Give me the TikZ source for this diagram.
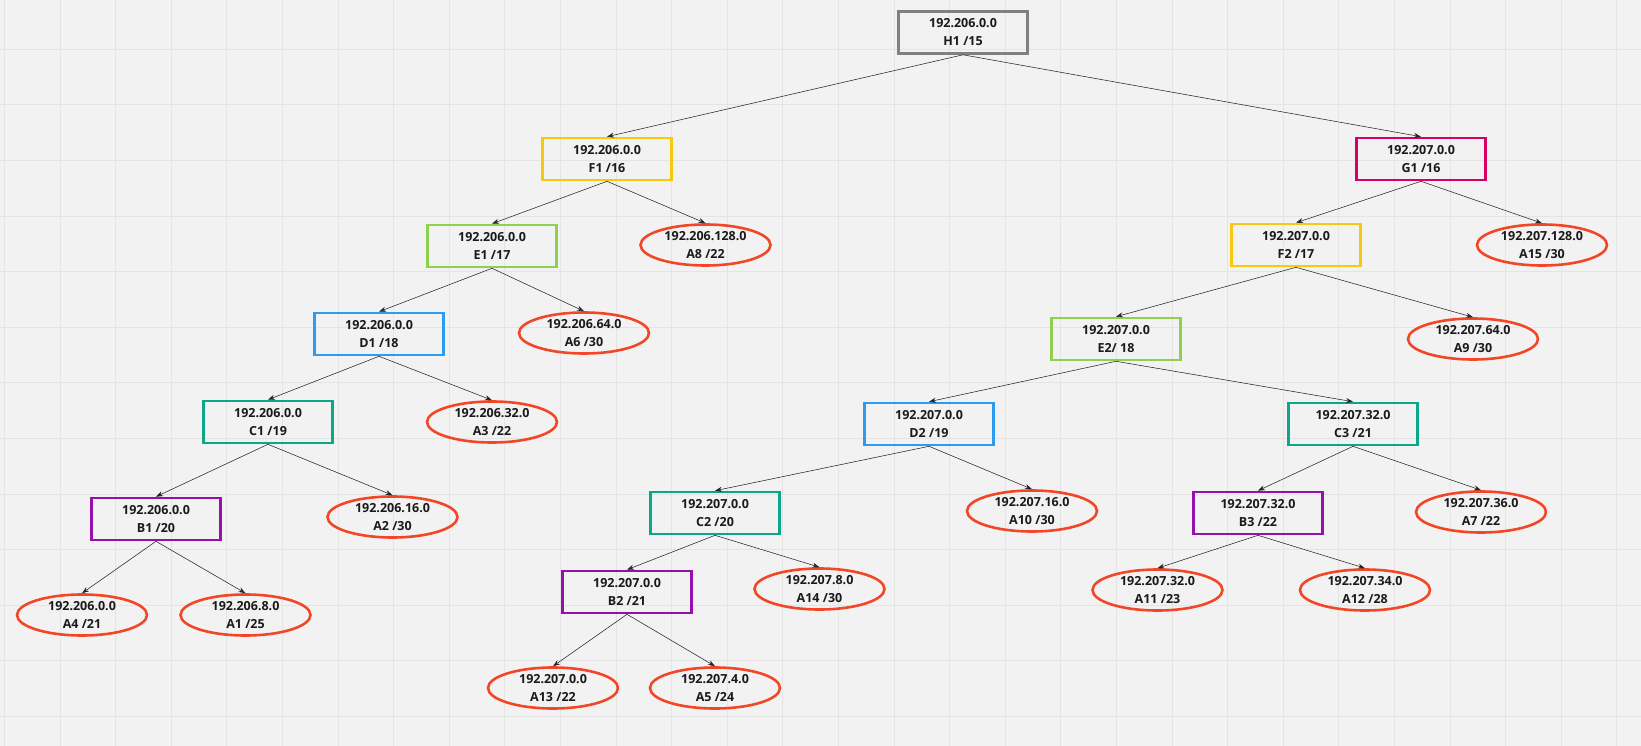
\documentclass[tikz,border=0pt]{standalone}
\usepackage{fontspec}
\setmainfont{Open Sans}
\usetikzlibrary{arrows.meta}
\definecolor{bg}{HTML}{F2F2F2}
\definecolor{gridc}{HTML}{E4E4E4}
\definecolor{cgray}{HTML}{808080}
\definecolor{cyellow}{HTML}{FAC710}
\definecolor{cpink}{HTML}{DA0063}
\definecolor{cgreen}{HTML}{8FD14F}
\definecolor{cblue}{HTML}{2D9BF0}
\definecolor{cteal}{HTML}{0CA789}
\definecolor{cpurple}{HTML}{9510AC}
\definecolor{cred}{HTML}{F24726}
\definecolor{txt}{HTML}{1A1A1A}
\tikzset{
  base/.style={line width=2.6pt, minimum width=129pt, minimum height=42pt, inner sep=0pt,
    align=center, font=\fontsize{12.5}{18}\selectfont\bfseries, text=txt},
  rbox/.style={base, draw=#1, rectangle},
  leaf/.style={base, draw=cred, ellipse, minimum width=130pt, minimum height=41pt},
  conn/.style={-{Stealth[length=7pt,width=5pt]}, line width=0.55pt, draw=black!85},
}
\usetikzlibrary{shapes.geometric}
\begin{document}
\begin{tikzpicture}[x=1pt,y=-1pt]
\fill[bg] (0,0) rectangle (1641,746);
\useasboundingbox (0,0) rectangle (1641,746);
\foreach \i in {0,...,29} {\draw[gridc, line width=0.9pt] ({4.5+55.6*\i},0) -- ({4.5+55.6*\i},746);}
\foreach \j in {1,...,14} {\draw[gridc, line width=0.9pt] (0,{-6.3+55.6*\j}) -- (1641,{-6.3+55.6*\j});}
% rectangles
\node[rbox=cgray]   (H1) at (963,32.5) {192.206.0.0\\H1 /15};
\node[rbox=cyellow] (F1) at (607,159) {192.206.0.0\\F1 /16};
\node[rbox=cpink]   (G1) at (1421,159) {192.207.0.0\\G1 /16};
\node[rbox=cgreen]  (E1) at (492,246) {192.206.0.0\\E1 /17};
\node[rbox=cyellow] (F2) at (1296,245) {192.207.0.0\\F2 /17};
\node[rbox=cblue]   (D1) at (379,334) {192.206.0.0\\D1 /18};
\node[rbox=cgreen]  (E2) at (1116,339) {192.207.0.0\\E2/ 18};
\node[rbox=cteal]   (C1) at (268,422) {192.206.0.0\\C1 /19};
\node[rbox=cblue]   (D2) at (929,424) {192.207.0.0\\D2 /19};
\node[rbox=cteal]   (C3) at (1353,424) {192.207.32.0\\C3 /21};
\node[rbox=cpurple] (B1) at (156,519) {192.206.0.0\\B1 /20};
\node[rbox=cteal]   (C2) at (715,513) {192.207.0.0\\C2 /20};
\node[rbox=cpurple] (B3) at (1258,513) {192.207.32.0\\B3 /22};
\node[rbox=cpurple] (B2) at (627,592) {192.207.0.0\\B2 /21};
% leaves
\node[leaf] (A8)  at (705.5,245) {192.206.128.0\\A8 /22};
\node[leaf] (A15) at (1542,245) {192.207.128.0\\A15 /30};
\node[leaf] (A6)  at (584,333) {192.206.64.0\\A6 /30};
\node[leaf] (A9)  at (1473,339) {192.207.64.0\\A9 /30};
\node[leaf] (A3)  at (492,422) {192.206.32.0\\A3 /22};
\node[leaf] (A2)  at (392.5,517) {192.206.16.0\\A2 /30};
\node[leaf] (A10) at (1032,511) {192.207.16.0\\A10 /30};
\node[leaf] (A7)  at (1481,512) {192.207.36.0\\A7 /22};
\node[leaf] (A4)  at (82,615) {192.206.0.0\\A4 /21};
\node[leaf] (A1)  at (245.5,615) {192.206.8.0\\A1 /25};
\node[leaf] (A14) at (819.5,589) {192.207.8.0\\A14 /30};
\node[leaf] (A11) at (1157.5,590) {192.207.32.0\\A11 /23};
\node[leaf] (A12) at (1365,590) {192.207.34.0\\A12 /28};
\node[leaf] (A13) at (553,688) {192.207.0.0\\A13 /22};
\node[leaf] (A5)  at (715,688) {192.207.4.0\\A5 /24};
% connectors
\foreach \p/\c in {H1/F1,H1/G1,F1/E1,F1/A8,G1/F2,G1/A15,E1/D1,E1/A6,F2/E2,F2/A9,
  D1/C1,D1/A3,E2/D2,E2/C3,C1/B1,C1/A2,D2/C2,D2/A10,C3/B3,C3/A7,B1/A4,B1/A1,
  C2/B2,C2/A14,B3/A11,B3/A12,B2/A13,B2/A5}
  {\draw[conn] (\p.south) -- (\c.north);}
\end{tikzpicture}
\end{document}
